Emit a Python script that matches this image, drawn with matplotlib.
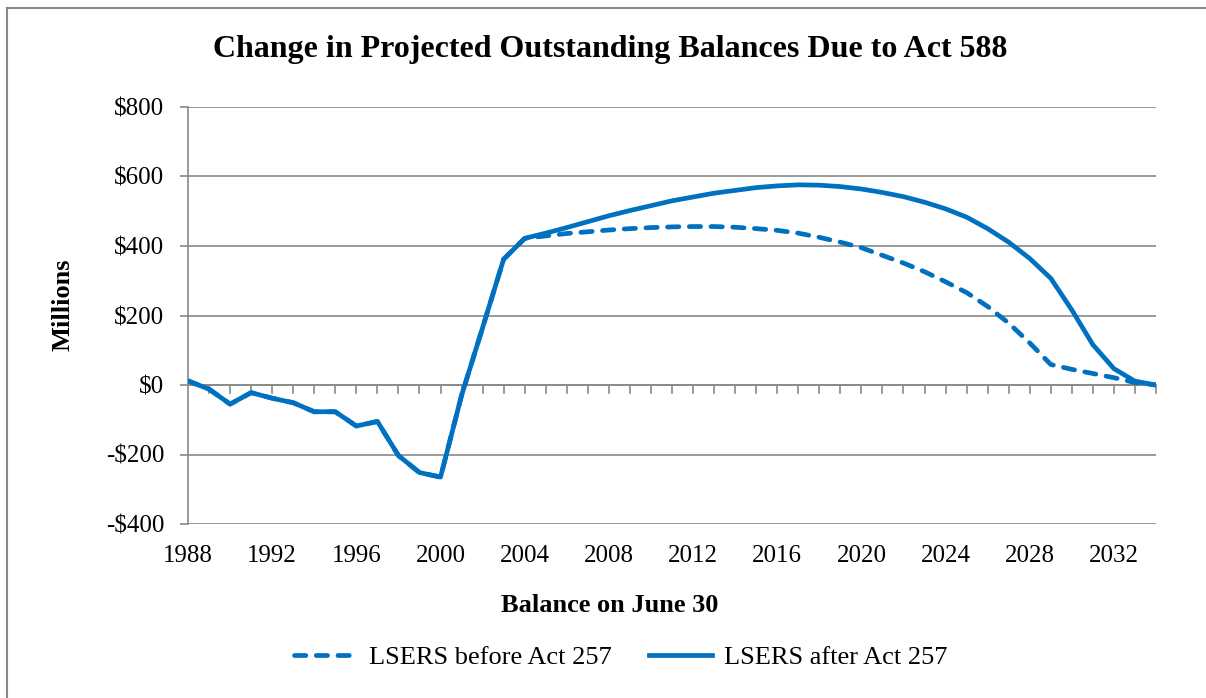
#!/usr/bin/env python3
"""Change in projected outstanding balances due to Act 588"""
import matplotlib.pyplot as plt
from matplotlib.lines import Line2D
from matplotlib.ticker import FuncFormatter, MultipleLocator

years = list(range(1988, 2035))

# common history 1988-2004 (both series coincide)
hist = [12, -12, -55, -22, -38, -51, -77, -77, -118, -105, -203, -252, -265,
        -30, 165, 362, 422]

before_proj = [429, 436, 441, 446, 450, 453, 455, 456, 456, 454, 450, 445,
               437, 425, 411, 395, 373, 351, 326, 297, 266, 226, 178, 121,
               59, 45, 33, 21, 7, 0]
after_proj = [437, 453, 470, 487, 502, 516, 530, 541, 552, 560, 568, 573,
              576, 575, 571, 564, 554, 542, 526, 507, 483, 450, 411, 364,
              307, 216, 116, 47, 11, 0]

before = hist + before_proj
after = hist + after_proj

BLUE = '#0070C0'
GRID = '#898989'
plt.rcParams['font.family'] = ['Liberation Serif', 'DejaVu Serif']

fig = plt.figure(figsize=(12.06, 6.98), dpi=100)
ax = fig.add_axes([188 / 1206, 1 - 524 / 698, (1156 - 188) / 1206, (524 - 107) / 698])

DASH = (2.4, 2.2)
ax.plot(years, before, color=BLUE, lw=3.4, dashes=DASH,
        dash_capstyle='round', zorder=3)
ax.plot(years, after, color=BLUE, lw=3.4, solid_capstyle='butt', zorder=4)

ax.set_xlim(1988, 2034)
ax.set_ylim(-400, 800)
ax.yaxis.set_major_locator(MultipleLocator(200))
ax.yaxis.set_major_formatter(FuncFormatter(
    lambda v, p: f'${v:,.0f}' if v >= 0 else f'-${-v:,.0f}'))
ax.grid(axis='y', color=GRID, lw=1.2, zorder=0)
ax.set_axisbelow(True)

for s in ['top', 'right', 'bottom']:
    ax.spines[s].set_visible(False)
ax.spines['left'].set_color(GRID)
ax.spines['left'].set_linewidth(1.2)

# category axis crossing at zero, labels at the bottom
ax.axhline(0, color=GRID, lw=1.2, zorder=1)
for yr in years[1:]:
    ax.plot([yr, yr], [0, -24], color=GRID, lw=1.2, zorder=1, clip_on=False)
ax.set_xticks(list(range(1988, 2034, 4)))
ax.tick_params(axis='x', length=0, pad=15, labelsize=18)
ax.tick_params(axis='y', length=6, width=1.2, color=GRID, pad=11, labelsize=18)

ax.set_xlabel('Balance on June 30', fontsize=19, fontweight='bold', va='center')
ax.xaxis.set_label_coords((610 - 188) / 968, (524 - 605) / 417)
ax.set_ylabel('Millions', fontsize=19, fontweight='bold', va='center')
ax.yaxis.set_label_coords((63 - 188) / 968, (524 - 305) / 417)
fig.text(610 / 1206, 1 - 49 / 698, 'Change in Projected Outstanding Balances Due to Act 588',
         ha='center', va='center', fontsize=23, fontweight='bold')

handles = [Line2D([], [], color=BLUE, lw=3.4, dashes=DASH, dash_capstyle='round'),
           Line2D([], [], color=BLUE, lw=3.4)]
fig.legend(handles, ['LSERS before Act 257', 'LSERS after Act 257'],
           loc='center', bbox_to_anchor=(621 / 1206, 1 - 657 / 698), ncol=2,
           frameon=False, fontsize=19, handlelength=2.4, handletextpad=0.45,
           columnspacing=1.4)

# outer chart border (top and left visible)
fig.add_artist(Line2D([7 / 1206, 7 / 1206], [0, 1 - 8 / 698], color=GRID, lw=1.5))
fig.add_artist(Line2D([7 / 1206, 1], [1 - 8 / 698, 1 - 8 / 698], color=GRID, lw=1.5))

fig.savefig('out.png', dpi=100)
